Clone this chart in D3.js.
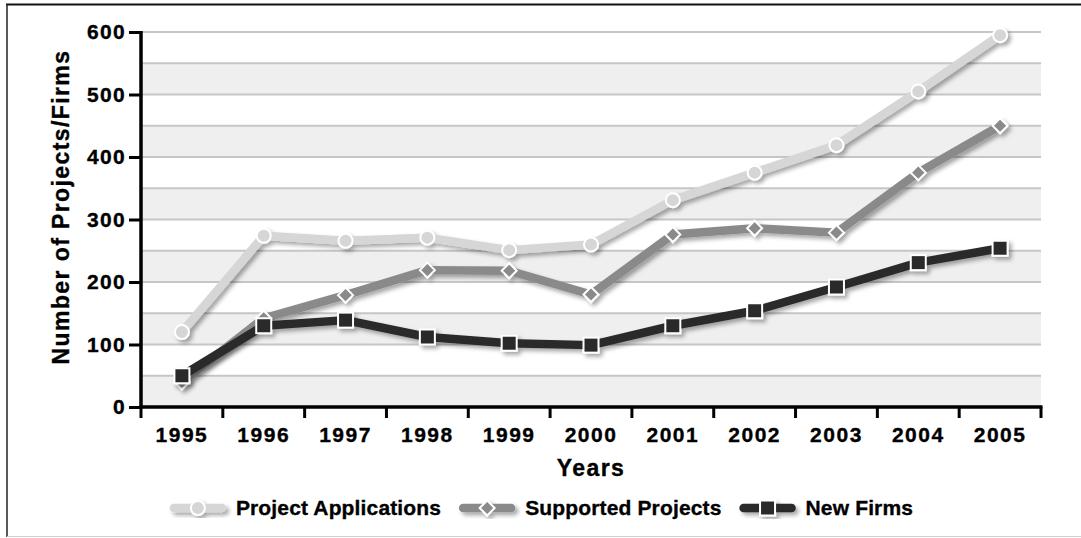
<!DOCTYPE html>
<html>
<head>
<meta charset="utf-8">
<script src="https://cdn.jsdelivr.net/npm/d3@7"></script>
<style>
  html, body { margin: 0; padding: 0; background: #fff; }
  svg { display: block; font-family: "Liberation Sans", Arial, Helvetica, sans-serif; font-weight: bold; }
  .lbl { stroke: #000; stroke-width: 0.35px; paint-order: stroke; }
</style>
</head>
<body>
<svg id="chart" width="1081" height="538"></svg>
<script>
// ---- data ----
const years = ["1995","1996","1997","1998","1999","2000","2001","2002","2003","2004","2005"];
const projectApplications = [120, 274, 266, 271, 251, 260, 331, 375, 419, 505, 595];
const supportedProjects   = [40, 142, 179, 219, 218, 180, 276, 286, 279, 375, 450];
const newFirms            = [50, 130, 139, 112, 102, 99, 130, 154, 192, 231, 254];
const yTickValues = [0, 100, 200, 300, 400, 500, 600];
const gridValues  = [0, 50, 100, 150, 200, 250, 300, 350, 400, 450, 500, 550, 600];
const seriesNames = ["Project Applications", "Supported Projects", "New Firms"];

const series = [
  { name: seriesNames[0], values: projectApplications, color: "#d6d6d6", marker: "circle" },
  { name: seriesNames[1], values: supportedProjects,   color: "#8a8a8a", marker: "diamond" },
  { name: seriesNames[2], values: newFirms,            color: "#2a2a2a", marker: "square" }
];

const svg = d3.select("#chart");
const plot = { left: 141, right: 1041, top: 32, bottom: 407 };

const x = d3.scaleBand().domain(years).range([plot.left, plot.right]).padding(0);
const y = d3.scaleLinear().domain([0, 600]).range([plot.bottom, plot.top]);
const cx = d => x(d) + x.bandwidth() / 2;

// drop shadow for the series lines and markers
const defs = svg.append("defs");
const f = defs.append("filter").attr("id", "shadow")
  .attr("x", "-20%").attr("y", "-20%").attr("width", "140%").attr("height", "140%");
f.append("feDropShadow").attr("dx", 3).attr("dy", 3).attr("stdDeviation", 2)
  .attr("flood-color", "#000").attr("flood-opacity", 0.35);

// outer frame
svg.append("line").attr("x1", 6).attr("x2", 1081).attr("y1", 4.5).attr("y2", 4.5)
  .attr("stroke", "#111").attr("stroke-width", 2);
svg.append("line").attr("x1", 7).attr("x2", 7).attr("y1", 4).attr("y2", 537)
  .attr("stroke", "#222").attr("stroke-width", 1.5);
svg.append("line").attr("x1", 7).attr("x2", 1081).attr("y1", 536.5).attr("y2", 536.5)
  .attr("stroke", "#cfcfcf").attr("stroke-width", 1);

// alternating background bands
const bands = svg.append("g");
for (let i = 0; i < gridValues.length - 1; i++) {
  if (i % 2 === 0) {
    bands.append("rect")
      .attr("x", plot.left).attr("width", plot.right - plot.left)
      .attr("y", y(gridValues[i + 1])).attr("height", y(gridValues[i]) - y(gridValues[i + 1]))
      .attr("fill", "#efefef");
  }
}

// horizontal gridlines
svg.append("g").selectAll("line").data(gridValues.filter(v => v > 0)).join("line")
  .attr("x1", plot.left).attr("x2", plot.right)
  .attr("y1", d => y(d)).attr("y2", d => y(d))
  .attr("stroke", "#c6c6c6").attr("stroke-width", 1.8);

// y axis
const yAxis = svg.append("g").attr("transform", `translate(${plot.left},0)`)
  .call(d3.axisLeft(y).tickValues(yTickValues).tickSize(12).tickPadding(3));
yAxis.select(".domain").attr("stroke", "#000").attr("stroke-width", 3.5)
  .attr("d", `M0,${plot.top - 1}V${plot.bottom + 1.5}`);
yAxis.selectAll(".tick line").attr("stroke", "#000").attr("stroke-width", 3);
yAxis.selectAll(".tick text").attr("class", "lbl").attr("font-size", 21).attr("letter-spacing", 1.3)
  .attr("fill", "#000").attr("font-weight", "bold").attr("font-family", "Liberation Sans, Arial, sans-serif");

// x axis labels (centered in each year band)
const xAxis = svg.append("g").attr("transform", `translate(0,${plot.bottom})`)
  .call(d3.axisBottom(x).tickSize(0).tickPadding(20));
xAxis.select(".domain").remove();
xAxis.selectAll(".tick text").attr("class", "lbl").attr("font-size", 21).attr("letter-spacing", 1.5)
  .attr("fill", "#000").attr("font-weight", "bold").attr("font-family", "Liberation Sans, Arial, sans-serif");

// x axis line and ticks at the band boundaries
const boundaries = years.map(d => x(d)).concat([x.range()[1]]);
svg.append("line").attr("x1", plot.left - 1.5).attr("x2", plot.right + 1.5)
  .attr("y1", plot.bottom).attr("y2", plot.bottom)
  .attr("stroke", "#000").attr("stroke-width", 3.5);
svg.append("g").selectAll("line").data(boundaries).join("line")
  .attr("x1", d => d).attr("x2", d => d)
  .attr("y1", plot.bottom).attr("y2", plot.bottom + 11)
  .attr("stroke", "#000").attr("stroke-width", 3);

// axis titles
svg.append("text").attr("class", "lbl").attr("x", 591).attr("y", 476).attr("text-anchor", "middle")
  .attr("font-size", 23).attr("letter-spacing", 1.4).text("Years");
svg.append("text").attr("class", "lbl").attr("transform", "translate(69,207) rotate(-90)").attr("text-anchor", "middle")
  .attr("font-size", 23).attr("letter-spacing", 1.4).text("Number of Projects/Firms");

// marker drawing
function drawMarker(g, type, color) {
  if (type === "circle") {
    g.append("circle").attr("r", 7).attr("fill", color).attr("stroke", "#fff").attr("stroke-width", 2);
  } else if (type === "diamond") {
    g.append("path").attr("d", "M0,-7.5L7.5,0L0,7.5L-7.5,0Z")
      .attr("fill", color).attr("stroke", "#fff").attr("stroke-width", 2);
  } else {
    g.append("rect").attr("x", -7.5).attr("y", -7.5).attr("width", 15).attr("height", 15)
      .attr("fill", color).attr("stroke", "#fff").attr("stroke-width", 2);
  }
}

// series lines + markers
const line = d3.line().x((d, i) => cx(years[i])).y(d => y(d));
series.forEach(s => {
  const g = svg.append("g").attr("filter", "url(#shadow)");
  g.append("path").datum(s.values).attr("d", line)
    .attr("fill", "none").attr("stroke", s.color).attr("stroke-width", 8.5)
    .attr("stroke-linejoin", "round");
  s.values.forEach((v, i) => {
    const m = g.append("g").attr("transform", `translate(${cx(years[i])},${y(v)})`);
    drawMarker(m, s.marker, s.color);
  });
});

// legend
const legend = svg.append("g");
const symW = 54, symGap = 11, itemGap = 19, legendY = 508;
let items = [];
let xPos = 0;
series.forEach(s => {
  const t = legend.append("text").attr("class", "lbl").attr("font-size", 21).attr("letter-spacing", 0.15)
    .attr("y", legendY + 7).text(s.name);
  const w = t.node().getComputedTextLength();
  items.push({ s, t, start: xPos });
  xPos += symW + symGap + w + itemGap;
});
const totalW = xPos - itemGap;
const legendLeft = 542 - totalW / 2;
items.forEach(({ s, t, start }) => {
  const x0 = legendLeft + start;
  const sg = legend.append("g").attr("filter", "url(#shadow)");
  sg.append("line").attr("x1", x0 + 3).attr("x2", x0 + symW - 3)
    .attr("y1", legendY).attr("y2", legendY)
    .attr("stroke", s.color).attr("stroke-width", 8.5).attr("stroke-linecap", "round");
  const m = sg.append("g").attr("transform", `translate(${x0 + symW / 2},${legendY})`);
  drawMarker(m, s.marker, s.color);
  t.attr("x", x0 + symW + symGap);
});
</script>
</body>
</html>
